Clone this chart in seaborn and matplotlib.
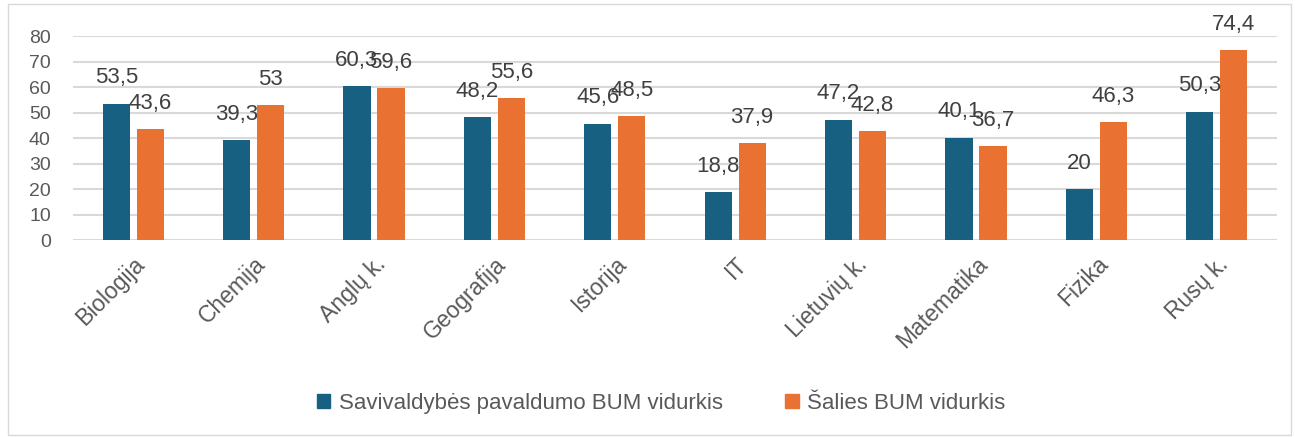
import pandas as pd
import matplotlib
matplotlib.use('Agg')
import matplotlib.pyplot as plt
import seaborn as sns
from matplotlib.patches import Rectangle

subjects = ['Biologija', 'Chemija', 'Anglų k.', 'Geografija', 'Istorija', 'IT',
            'Lietuvių k.', 'Matematika', 'Fizika', 'Rusų k.']
municipal = [53.5, 39.3, 60.3, 48.2, 45.6, 18.8, 47.2, 40.1, 20, 50.3]
national = [43.6, 53, 59.6, 55.6, 48.5, 37.9, 42.8, 36.7, 46.3, 74.4]
series_names = ['Savivaldybės pavaldumo BUM vidurkis', 'Šalies BUM vidurkis']
colors = ['#176082', '#E97132']

df = pd.DataFrame({
    'dalykas': subjects * 2,
    'vidurkis': municipal + national,
    'serija': [series_names[0]] * len(subjects) + [series_names[1]] * len(subjects),
})

sns.set_theme(style='white')
plt.rcParams['font.family'] = ['Liberation Sans', 'DejaVu Sans']

fig = plt.figure(figsize=(12.99, 4.37), dpi=100)
ax = fig.add_axes([0.0562, 0.4508, 0.9268, 0.4668])

sns.barplot(data=df, x='dalykas', y='vidurkis', hue='serija', palette=colors,
            width=0.565, gap=0.2, ax=ax, legend=False, saturation=1, linewidth=0)

# data labels with decimal comma
for cont in ax.containers:
    for bar in cont:
        h = bar.get_height()
        txt = f'{h:g}'.replace('.', ',')
        ax.annotate(txt, (bar.get_x() + bar.get_width() / 2, h),
                    xytext=(0, 11), textcoords='offset points',
                    ha='center', va='bottom', fontsize=16, color='#404040')

ax.set_ylim(0, 80)
ax.set_yticks(range(0, 81, 10))
ax.set_xlim(-0.5, len(subjects) - 0.5)
ax.yaxis.grid(True, color='#D9D9D9', linewidth=1.5)
ax.set_axisbelow(True)
for s in ax.spines.values():
    s.set_visible(False)
ax.set_xlabel('')
ax.set_ylabel('')
ax.tick_params(axis='y', labelsize=14, labelcolor='#595959', length=0, pad=16)
ax.tick_params(axis='x', labelsize=16.5, labelcolor='#595959', length=0, pad=9)
plt.setp(ax.get_xticklabels(), rotation=45, ha='right', rotation_mode='anchor')

handles = [Rectangle((0, 0), 1, 1, color=c) for c in colors]
fig.legend(handles, series_names, loc='center', bbox_to_anchor=(0.509, 0.077),
           ncol=2, frameon=False, handlelength=0.6, handleheight=0.6,
           handletextpad=0.4, columnspacing=2.8,
           prop={'size': 16}, labelcolor='#595959')

fig.patches.append(Rectangle((0.006, 0.005), 0.988, 0.985, transform=fig.transFigure,
                             fill=False, edgecolor='#D9D9D9', linewidth=1))

fig.savefig('out.png', dpi=100)
